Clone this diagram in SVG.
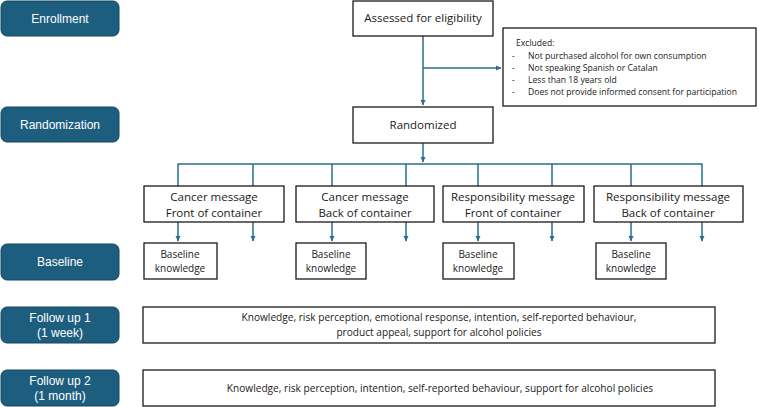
<svg xmlns="http://www.w3.org/2000/svg" width="759" height="407" viewBox="0 0 759 407">
<defs>
<marker id="ah" markerWidth="6" markerHeight="6" refX="5" refY="3" orient="auto" markerUnits="userSpaceOnUse">
<path d="M0,0.5 L5.5,3 L0,5.5 Z" fill="#2a6d8e"/>
</marker>
</defs>
<style>
.stage{fill:#1d5e7f;stroke:#16465f;stroke-width:1}
.stxt{font-family:"Liberation Sans",Arial,sans-serif;font-size:12px;fill:#ffffff;text-anchor:middle}
.box{fill:#ffffff;stroke:#1a1a1a;stroke-width:1.3}
.t{font-family:"Open Sans","Liberation Sans",sans-serif;fill:#1a1a1a;text-anchor:middle}
.t12{font-size:11.5px}
.t10{font-size:10px}
.tf{font-size:10.15px}
.t9{font-size:8.6px;text-anchor:start}
.c{fill:none;stroke:#2a6d8e;stroke-width:1.5}
</style>
<rect width="759" height="407" fill="#ffffff"/>
<g id="stage-enrollment"><rect class="stage" x="1" y="1" width="118" height="35" rx="6"/><text class="stxt" x="60" y="23">Enrollment</text></g>
<g id="stage-randomization"><rect class="stage" x="1" y="107" width="118" height="35" rx="6"/><text class="stxt" x="60" y="129">Randomization</text></g>
<g id="stage-baseline"><rect class="stage" x="1" y="244" width="118" height="36" rx="6"/><text class="stxt" x="60" y="266">Baseline</text></g>
<g id="stage-fu1"><rect class="stage" x="1" y="307" width="118" height="36" rx="6"/><text class="stxt" x="60" y="322">Follow up 1</text><text class="stxt" x="60" y="337">(1 week)</text></g>
<g id="stage-fu2"><rect class="stage" x="1" y="370" width="118" height="36" rx="6"/><text class="stxt" x="60" y="385">Follow up 2</text><text class="stxt" x="60" y="400">(1 month)</text></g>

<g id="connectors">
<path class="c" d="M423,36 V105" marker-end="url(#ah)"/>
<path class="c" d="M423,68 H501" marker-end="url(#ah)"/>
<path class="c" d="M423,143 V162" marker-end="url(#ah)"/>
<path class="c" d="M178,186 V164 H702 V186"/>
<path class="c" d="M253,164 V186 M332,164 V186 M406,164 V186 M478,164 V186 M552,164 V186 M631,164 V186"/>
<path class="c" d="M178,222 V241" marker-end="url(#ah)"/>
<path class="c" d="M253,222 V241" marker-end="url(#ah)"/>
<path class="c" d="M332,222 V241" marker-end="url(#ah)"/>
<path class="c" d="M406,222 V241" marker-end="url(#ah)"/>
<path class="c" d="M478,222 V241" marker-end="url(#ah)"/>
<path class="c" d="M552,222 V241" marker-end="url(#ah)"/>
<path class="c" d="M631,222 V241" marker-end="url(#ah)"/>
<path class="c" d="M702,222 V241" marker-end="url(#ah)"/>
</g>

<g id="assessed"><rect class="box" x="353" y="1" width="140" height="35"/><text class="t t12" x="423" y="22">Assessed for eligibility</text></g>
<g id="excluded"><rect class="box" x="503" y="28" width="253" height="78"/>
<text class="t t9" x="516" y="46">Excluded:</text>
<text class="t t9" x="512" y="59">-</text><text class="t t9" x="528" y="59">Not purchased alcohol for own consumption</text>
<text class="t t9" x="512" y="71">-</text><text class="t t9" x="528" y="71">Not speaking Spanish or Catalan</text>
<text class="t t9" x="512" y="83">-</text><text class="t t9" x="528" y="83">Less than 18 years old</text>
<text class="t t9" x="512" y="95">-</text><text class="t t9" x="528" y="95">Does not provide informed consent for participation</text>
</g>
<g id="randomized"><rect class="box" x="353" y="107" width="140" height="36"/><text class="t t12" x="423" y="129">Randomized</text></g>

<g id="arm1"><rect class="box" x="144" y="186" width="140" height="36"/><text class="t t12" x="214" y="201">Cancer message</text><text class="t t12" x="214" y="217">Front of container</text></g>
<g id="arm2"><rect class="box" x="296" y="186" width="138" height="36"/><text class="t t12" x="365" y="201">Cancer message</text><text class="t t12" x="365" y="217">Back of container</text></g>
<g id="arm3"><rect class="box" x="443" y="186" width="141" height="36"/><text class="t t12" x="513" y="201">Responsibility message</text><text class="t t12" x="513" y="217">Front of container</text></g>
<g id="arm4"><rect class="box" x="594" y="186" width="149" height="36"/><text class="t t12" x="668" y="201">Responsibility message</text><text class="t t12" x="668" y="217">Back of container</text></g>

<g id="base1"><rect class="box" x="144" y="243" width="73" height="36"/><text class="t t10" x="180" y="258">Baseline</text><text class="t t10" x="180" y="272">knowledge</text></g>
<g id="base2"><rect class="box" x="296" y="243" width="70" height="36"/><text class="t t10" x="331" y="258">Baseline</text><text class="t t10" x="331" y="272">knowledge</text></g>
<g id="base3"><rect class="box" x="443" y="243" width="71" height="36"/><text class="t t10" x="478" y="258">Baseline</text><text class="t t10" x="478" y="272">knowledge</text></g>
<g id="base4"><rect class="box" x="596" y="243" width="70" height="36"/><text class="t t10" x="631" y="258">Baseline</text><text class="t t10" x="631" y="272">knowledge</text></g>

<g id="fu1"><rect class="box" x="143" y="307" width="572" height="36"/><text class="t tf" x="439" y="321">Knowledge, risk perception, emotional response, intention, self-reported behaviour,</text><text class="t tf" x="439" y="336">product appeal, support for alcohol policies</text></g>
<g id="fu2"><rect class="box" x="143" y="370" width="572" height="36"/><text class="t tf" x="440" y="392">Knowledge, risk perception, intention, self-reported behaviour, support for alcohol policies</text></g>
</svg>
